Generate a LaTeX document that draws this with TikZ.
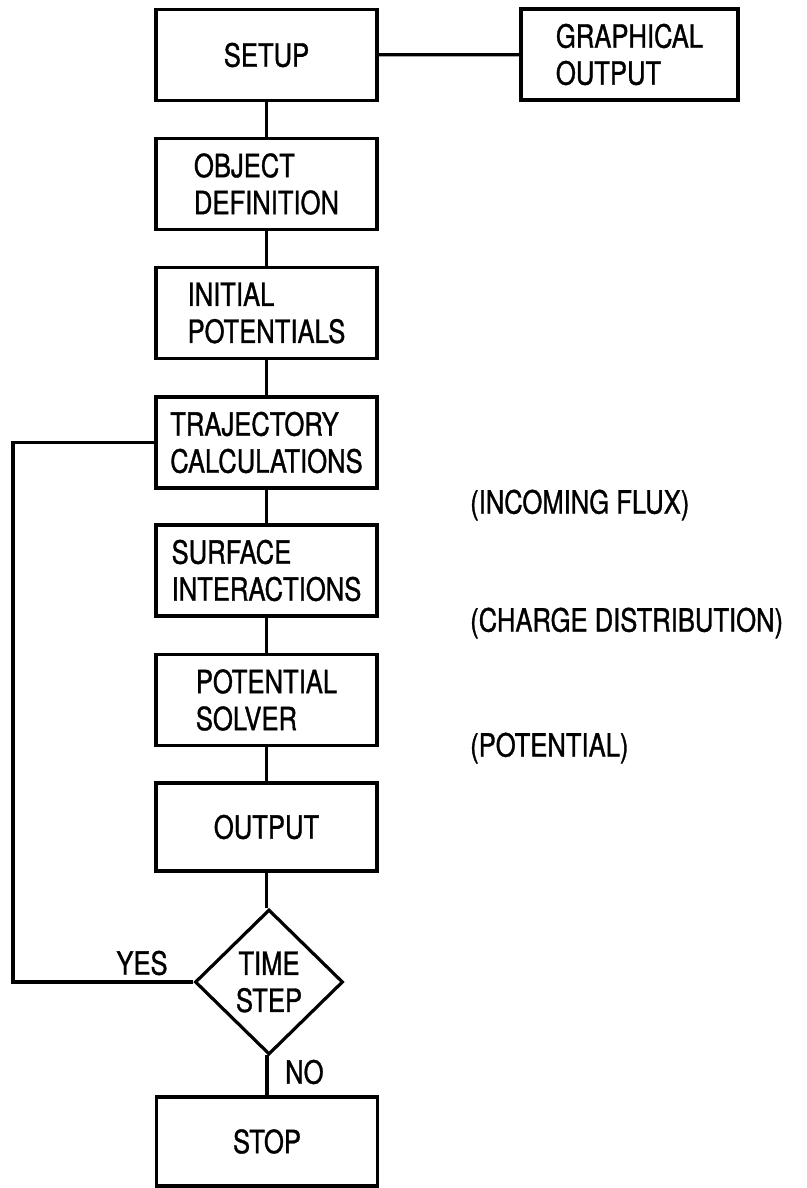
\documentclass[tikz,border=0pt]{standalone}
\usepackage{fontspec}
\setmainfont{TeX Gyre Heros}[FakeStretch=0.8,FakeBold=1]
\usetikzlibrary{shapes.geometric}
\begin{document}
\begin{tikzpicture}[x=1pt,y=-1pt,
  every node/.style={font=\fontsize{32}{37}\selectfont},
  blk/.style={draw,line width=3.2pt,minimum width=221pt,minimum height=91pt,inner sep=0pt,align=left},
  conn/.style={line width=3.2pt},
  lbl/.style={inner sep=0pt}]
\useasboundingbox (0,0) rectangle (806,1188);
\node[blk] (setup) at (266.5,55) {SETUP};
\node[blk,minimum width=217pt] (graph) at (629.5,54.5) {GRAPHICAL\\OUTPUT};
\node[blk] (objdef) at (266.5,184) {OBJECT\\DEFINITION};
\node[blk] (init) at (266.5,313) {INITIAL\\POTENTIALS};
\node[blk] (traj) at (266.5,442.5) {TRAJECTORY\\CALCULATIONS};
\node[blk] (surf) at (266.5,570.5) {SURFACE\\INTERACTIONS};
\node[blk] (solver) at (266.5,700) {POTENTIAL\\SOLVER};
\node[blk,minimum height=88pt] (output) at (266.5,827) {OUTPUT};
\node[draw,diamond,line width=3.2pt,minimum width=148pt,minimum height=145pt,inner sep=0pt,align=center] (dia) at (269,982) {TIME\\STEP};
\node[blk,minimum height=89pt] (stop) at (267,1141.5) {STOP};
\coordinate (loopx) at (13,0);
\draw[conn] (setup) -- (graph);
\draw[conn] (setup) -- (objdef);
\draw[conn] (objdef) -- (init);
\draw[conn] (init) -- (traj);
\draw[conn] (traj) -- (surf);
\draw[conn] (surf) -- (solver);
\draw[conn] (solver) -- (output);
\draw[conn] (output.south) -- (output.south |- dia.north);
\draw[conn] (dia.south) -- (dia.south -| stop.north) -- (stop.north);
\draw[conn] (dia.west) -- (dia.west -| loopx) |- (traj.west);
\node[lbl] (yes) at (142,963) {YES};
\node[lbl,anchor=west] (no) at (285,1072) {NO};
\node[lbl,anchor=west] (flux) at (470,505) {(INCOMING FLUX)};
\node[lbl,anchor=west] (charge) at (470,623) {(CHARGE DISTRIBUTION)};
\node[lbl,anchor=west] (pot) at (470,748) {(POTENTIAL)};
\end{tikzpicture}
\end{document}
